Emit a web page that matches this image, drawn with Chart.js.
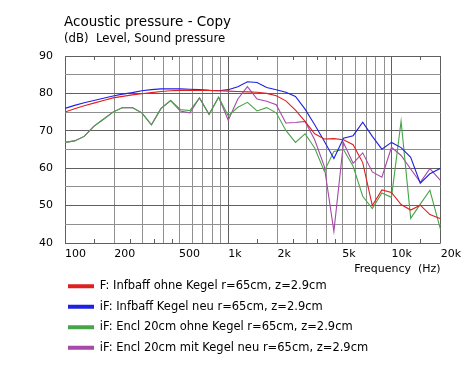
<!DOCTYPE html>
<html><head><meta charset="utf-8">
<script src="https://cdn.jsdelivr.net/npm/chart.js@4/dist/chart.umd.min.js"></script>
<style>html,body{margin:0;padding:0;background:#fff}#wrap{width:466px;height:381px}</style>
</head><body><div id="wrap"><canvas id="c" width="466" height="381"></canvas></div>
<script>
// ---- data ----
const freqs = [100,114.5,131.1,150.1,171.9,196.8,225.4,258.1,295.6,338.5,387.6,443.8,508.2,582,666.4,763.1,873.3,1000,1145,1311,1501,1719,1968,2254,2581,2956,3385,3876,4438,5082,5820,6664,7631,8733,10000,11450,13110,15010,17190,20000];
const redInfbaffOhne = [75.0,75.9,76.7,77.4,78.1,78.8,79.2,79.6,79.9,80.2,80.5,80.7,80.8,80.8,80.8,80.8,80.7,80.6,80.5,80.4,80.3,80.0,79.4,78.0,75.5,72.5,69.2,67.8,67.9,67.6,66.3,61.5,50.0,54.2,53.5,50.3,48.8,50.1,47.6,46.5];
const blueInfbaffNeu = [76.0,76.8,77.5,78.1,78.7,79.3,79.8,80.2,80.7,81.0,81.2,81.2,81.2,81.1,81.0,80.8,80.7,81.0,81.8,83.1,82.9,81.6,81.0,80.3,79.2,75.8,71.6,67.2,62.6,68.0,68.7,72.3,68.5,65.1,66.9,65.5,62.9,56.0,58.5,60.0];
const greenEnclOhne = [66.9,67.3,68.5,71.2,73.1,75.0,76.2,76.2,74.8,71.6,76.0,78.1,75.7,75.4,78.8,74.4,79.0,74.0,76.3,77.6,75.3,76.2,74.8,70.1,66.9,69.2,65.4,59.2,64.5,65.0,60.5,52.5,49.2,53.4,52.2,72.6,46.6,50.4,54.1,43.5];
const purpleEnclMit = [66.9,67.3,68.5,71.2,73.1,75.0,76.2,76.2,74.8,71.6,76.0,78.1,75.3,74.8,78.8,74.4,79.0,72.8,78.5,81.8,78.5,77.9,77.0,72.1,72.2,72.5,67.6,60.5,43.1,66.8,61.3,64.1,59.0,57.6,65.6,63.4,59.8,56.2,59.9,56.7];
const seriesLabels = ['F: Infbaff ohne Kegel r=65cm, z=2.9cm','iF: Infbaff Kegel neu r=65cm, z=2.9cm','iF: Encl 20cm ohne Kegel r=65cm, z=2.9cm','iF: Encl 20cm mit Kegel neu r=65cm, z=2.9cm'];
const gridFreqs = [100,200,300,400,500,600,700,800,900,1000,2000,3000,4000,5000,6000,7000,8000,9000,10000,20000];
const majorFreqs = [100,1000,10000,20000];
const minorTickFreqs = [150,250,350,450,1500,2500,3500,4500,15000];
const xTickLabels = {100:'100',200:'200',500:'500',1000:'1k',2000:'2k',5000:'5k',10000:'10k',20000:'20k'};
const titleText = 'Acoustic pressure - Copy';
const subtitleText = '(dB)  Level, Sound pressure';
const xTitleText = 'Frequency  (Hz)';

// ---- styles ----
const FONT = "'DejaVu Sans', Verdana, sans-serif";
const colors = ['#e01f1f','#2020e0','#48a448','#a848a8'];
const darkGrid = '#5f5f5f', lightGrid = '#909090';
Chart.defaults.font.family = FONT;

const values = [redInfbaffOhne, blueInfbaffNeu, greenEnclOhne, purpleEnclMit];

const titlePlugin = {
  id: 'titles',
  afterDraw(chart) {
    const c = chart.ctx;
    c.save();
    c.fillStyle = '#000';
    c.textBaseline = 'middle';
    c.textAlign = 'left';
    c.font = "13.5px " + FONT;
    c.fillText(titleText, 64, 22);
    c.font = "11.7px " + FONT;
    c.fillText(subtitleText, 64, 39);
    c.restore();
  }
};
const minorTicks = {
  id: 'minorTicks',
  beforeDatasetsDraw(chart) {
    const c = chart.ctx, xs = chart.scales.x, a = chart.chartArea;
    c.save();
    c.strokeStyle = darkGrid; c.lineWidth = 1;
    c.beginPath();
    minorTickFreqs.forEach(f => {
      const x = Math.round(xs.getPixelForValue(f)) + 0.5;
      c.moveTo(x, a.bottom); c.lineTo(x, a.bottom - 4);
      c.moveTo(x, a.top); c.lineTo(x, a.top + 4);
    });
    c.stroke();
    c.restore();
  }
};
const legendShift = {
  id: 'legendShift',
  afterLayout(chart) { if (chart.legend) chart.legend.left = 59; }
};

new Chart(document.getElementById('c'), {
  type: 'line',
  data: {
    datasets: seriesLabels.map((lab, i) => ({
      label: lab,
      data: freqs.map((f, j) => ({x: f, y: values[i][j]})),
      borderColor: colors[i], backgroundColor: colors[i],
      borderWidth: 1.1, pointRadius: 0, tension: 0, fill: false
    }))
  },
  options: {
    responsive: false, animation: false,
    layout: {padding: {left: 0, right: 24, top: 56, bottom: 17.5}},
    scales: {
      x: {
        type: 'logarithmic', min: 100, max: 20000,
        afterBuildTicks: s => { s.ticks = gridFreqs.map(v => ({value: v})); },
        afterFit: s => { s.height = 28.5; },
        border: {display: false},
        grid: {drawTicks: false, lineWidth: 1,
          color: c => majorFreqs.includes(c.tick && c.tick.value) ? darkGrid : lightGrid},
        ticks: {autoSkip: false, maxRotation: 0, minRotation: 0, align: 'start', padding: 5,
          color: '#000', font: {size: 11},
          callback: v => xTickLabels[v] || ''},
        title: {display: true, text: xTitleText, align: 'end', color: '#000',
          font: {size: 11, lineHeight: 1}, padding: {top: 0, bottom: -3.5}}
      },
      y: {
        min: 40, max: 90,
        afterFit: s => { s.width = 65; },
        border: {display: false},
        grid: {drawTicks: false, lineWidth: 1,
          color: c => (c.tick && c.tick.value % 10 === 0) ? darkGrid : lightGrid},
        ticks: {stepSize: 5, padding: 12, color: '#000', font: {size: 11},
          callback: v => (v % 10 === 0 ? String(v) : '')}
      }
    },
    plugins: {
      legend: {
        position: 'bottom', align: 'start',
        labels: {
          boxWidth: 26, boxHeight: 4, padding: 9, color: '#000', font: {size: 11.5},
          generateLabels: ch => Chart.defaults.plugins.legend.labels.generateLabels(ch).map(l => Object.assign(l, {lineWidth: 0}))
        }
      },
      tooltip: {enabled: false}
    }
  },
  plugins: [titlePlugin, minorTicks, legendShift]
});
</script>
</body></html>
